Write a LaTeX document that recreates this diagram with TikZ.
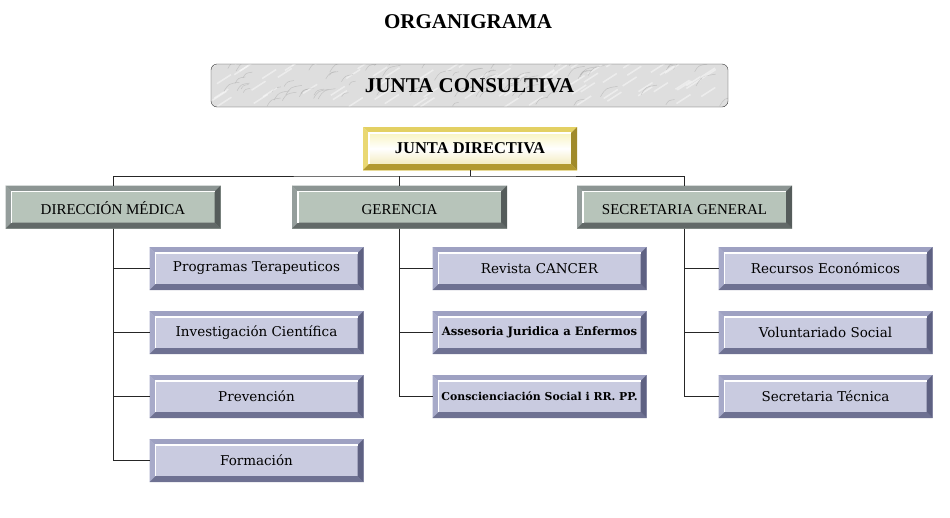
\documentclass[tikz,border=0pt]{standalone}
\usepackage{fontspec}
\setmainfont{Liberation Serif}
\newfontfamily\boxfont{DejaVu Serif}
\usepackage{tikz}
\usetikzlibrary{shapes}

\definecolor{lilaface}{HTML}{C9CBE0}
\definecolor{lilatop}{HTML}{9EA1C2}
\definecolor{lilaleft}{HTML}{A7AAC9}
\definecolor{lilabot}{HTML}{6E7192}
\definecolor{lilaright}{HTML}{5E6182}
\definecolor{grisface}{HTML}{B7C4BA}
\definecolor{gristop}{HTML}{8C9593}
\definecolor{grisleft}{HTML}{959E9C}
\definecolor{grisbot}{HTML}{626968}
\definecolor{grisright}{HTML}{555C5B}
\definecolor{orotop}{HTML}{E3D063}
\definecolor{oroleft}{HTML}{EAD873}
\definecolor{orobot}{HTML}{B39A30}
\definecolor{ororight}{HTML}{A08A2A}
\definecolor{marmol}{HTML}{DEDEDE}

\tikzset{
  bevel/.style n args={5}{fill=#1, path picture={
      \coordinate (bnw) at (path picture bounding box.north west);
      \coordinate (bne) at (path picture bounding box.north east);
      \coordinate (bsw) at (path picture bounding box.south west);
      \coordinate (bse) at (path picture bounding box.south east);
      \coordinate (inw) at ([shift={(6pt,-6pt)}]bnw);
      \coordinate (ine) at ([shift={(-6pt,-6pt)}]bne);
      \coordinate (isw) at ([shift={(6pt,6pt)}]bsw);
      \coordinate (ise) at ([shift={(-6pt,6pt)}]bse);
      \fill[#2] (bnw) -- (bne) -- (ine) -- (inw) -- cycle;
      \fill[#3] (bnw) -- (inw) -- (isw) -- (bsw) -- cycle;
      \fill[#4] (bsw) -- (isw) -- (ise) -- (bse) -- cycle;
      \fill[#5] (bse) -- (ise) -- (ine) -- (bne) -- cycle;
      \draw[white, line width=1.2pt] (isw) -- (inw) -- (ine);
    }},
  box/.style={rectangle, inner sep=0pt, outer sep=0pt, minimum height=43pt},
  lvltwo/.style={box, minimum width=215pt, text height=16pt, text depth=2pt,
    bevel={grisface}{gristop}{grisleft}{grisbot}{grisright},
    font=\fontsize{15}{17}\selectfont},
  lvlthree/.style={box, minimum width=214pt,
    bevel={lilaface}{lilatop}{lilaleft}{lilabot}{lilaright},
    font=\boxfont\fontsize{13.5}{16}\selectfont},
  smalltext/.style={font=\boxfont\bfseries\fontsize{#1}{12}\selectfont},
  conn/.style={draw=black!85, line width=0.8pt}
}

\begin{document}
\begin{tikzpicture}[x=1pt, y=-1pt]
  \useasboundingbox (0,0) rectangle (950,517);

  \node[font=\bfseries\fontsize{21}{24}\selectfont] (title) at (468,22) {ORGANIGRAMA};

  \node[box, minimum width=517pt, rounded corners=6pt, draw=black!80, fill=marmol,
        font=\bfseries\fontsize{21}{24}\selectfont,
        path picture={
          \pgfmathsetseed{11}
          \foreach \k in {1,...,90}{
            \pgfmathsetmacro{\px}{rnd*530}
            \pgfmathsetmacro{\py}{rnd*50}
            \pgfmathsetmacro{\pl}{6+rnd*14}
            \draw[black!35, line width=0.5pt, opacity=0.5]
              ([shift={(\px pt,\py pt)}]path picture bounding box.south west)
              .. controls +(\pl*0.3 pt,\pl*0.5 pt) .. +(\pl pt,\pl*0.6 pt);
            \pgfmathsetmacro{\qx}{rnd*530}
            \pgfmathsetmacro{\qy}{rnd*50}
            \draw[white, line width=1.5pt, opacity=0.45]
              ([shift={(\qx pt,\qy pt)}]path picture bounding box.south west)
              -- +(14pt,9pt);
          }
        }] (jc) at (469.5,85.5) {JUNTA CONSULTIVA};

  \node[box, minimum width=214pt,
        bevel={white}{orotop}{oroleft}{orobot}{ororight},
        top color=yellow!30!orotop!45, bottom color=orotop!55, middle color=white,
        font=\bfseries\fontsize{16.5}{19}\selectfont] (jd) at (470,148.5) {JUNTA DIRECTIVA};

  \node[lvltwo] (dm) at (113,207) {DIRECCIÓN MÉDICA};
  \node[lvltwo] (ge) at (399.5,207) {GERENCIA};
  \node[lvltwo] (sg) at (684.5,207) {SECRETARIA GENERAL};

  \node[lvlthree] (pt) at (256.5,268.5) {Programas Terapeuticos};
  \node[lvlthree] (ic) at (256.5,332.5) {Investigación Científica};
  \node[lvlthree] (pv) at (256.5,396.5) {Prevención};
  \node[lvlthree] (fo) at (256.5,460.5) {Formación};

  \node[lvlthree] (rc) at (539.5,268.5) {Revista CANCER};
  \node[lvlthree, smalltext=11.6] (aj) at (539.5,332.5) {Assesoria Juridica a Enfermos};
  \node[lvlthree, smalltext=10.9] (cs) at (539.5,396.5) {Conscienciación Social i RR. PP.};

  \node[lvlthree] (re) at (825.5,268.5) {Recursos Económicos};
  \node[lvlthree] (vs) at (825.5,332.5) {Voluntariado Social};
  \node[lvlthree] (st) at (825.5,396.5) {Secretaria Técnica};

  % lineas
  \coordinate (bus) at (470,176);
  \draw[conn] (jd.south) -- (bus);
  \draw[conn] (dm.north) |- (bus) -| (sg.north);
  \draw[conn] (ge.north) -- (ge.north |- bus);

  \draw[conn] (dm.south) |- (pt.west);
  \draw[conn] (dm.south) |- (ic.west);
  \draw[conn] (dm.south) |- (pv.west);
  \draw[conn] (dm.south) |- (fo.west);

  \draw[conn] (ge.south) |- (rc.west);
  \draw[conn] (ge.south) |- (aj.west);
  \draw[conn] (ge.south) |- (cs.west);

  \draw[conn] (sg.south) |- (re.west);
  \draw[conn] (sg.south) |- (vs.west);
  \draw[conn] (sg.south) |- (st.west);
\end{tikzpicture}
\end{document}
